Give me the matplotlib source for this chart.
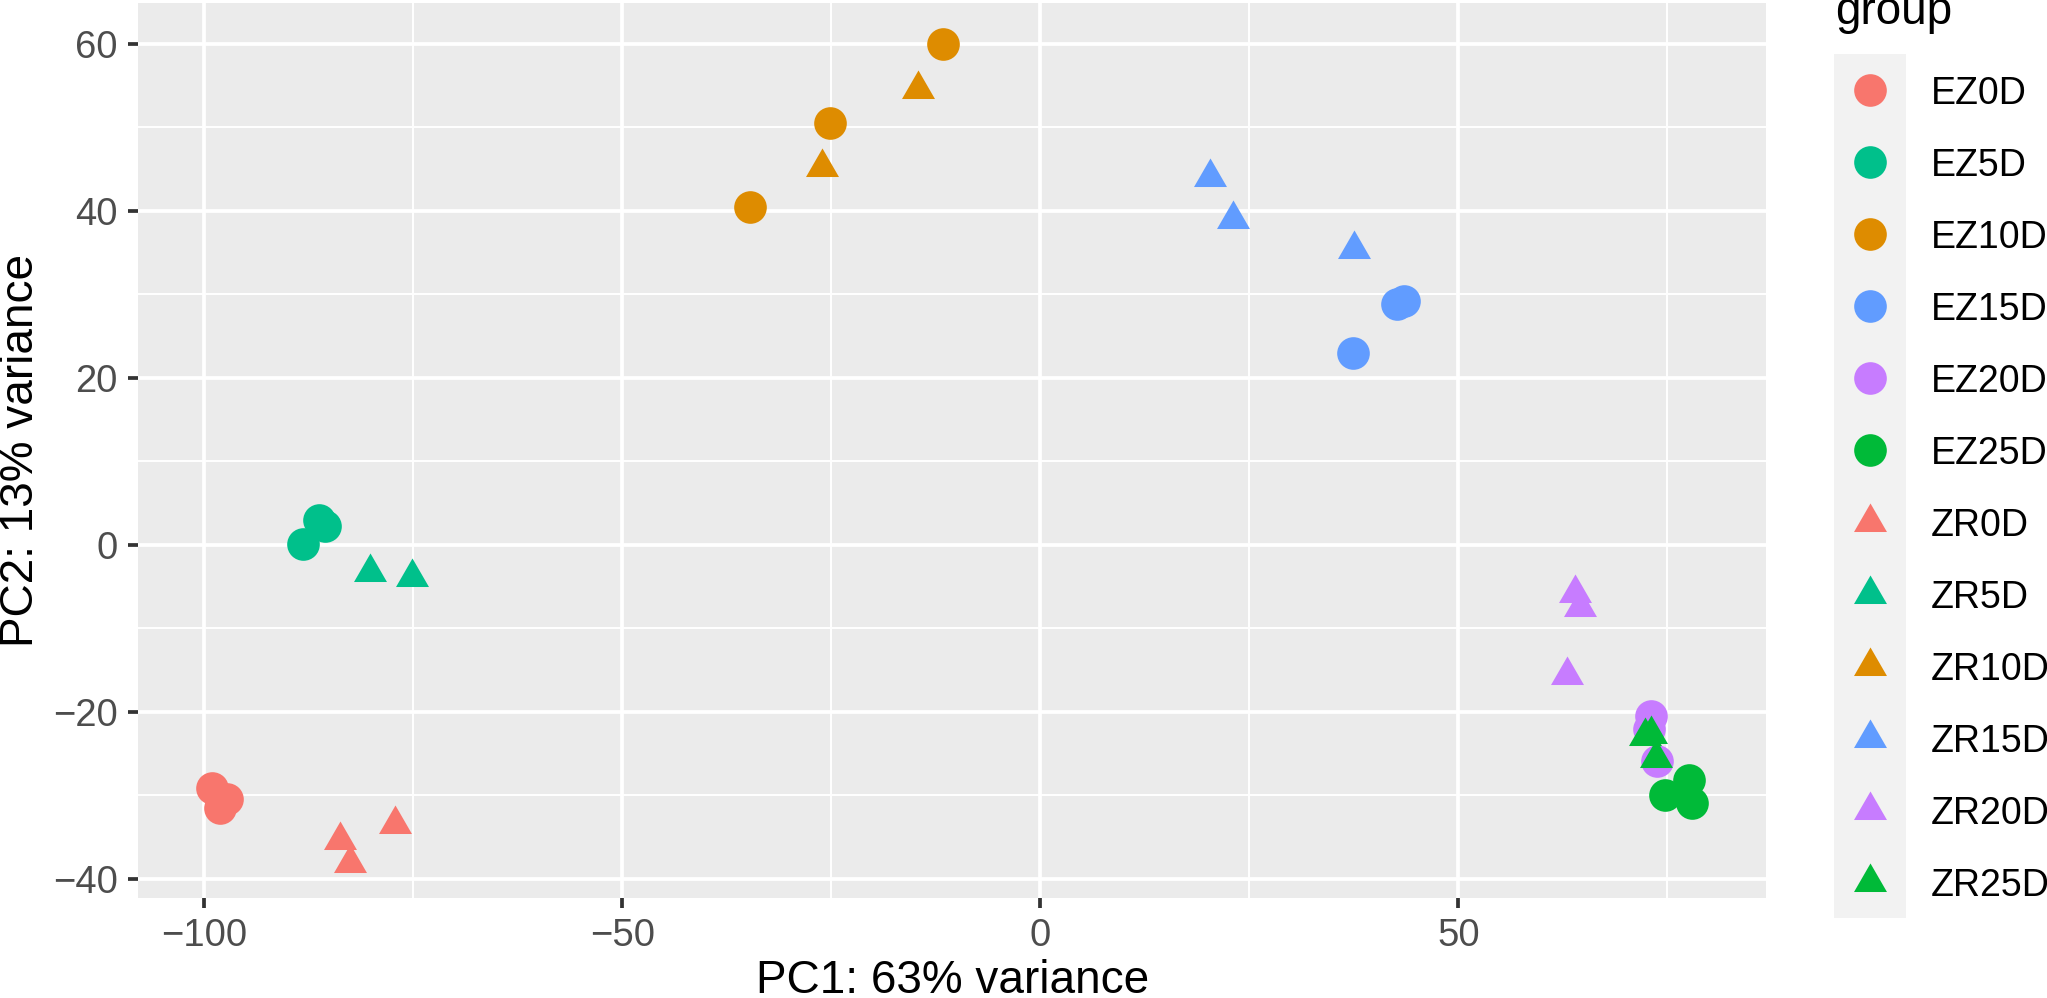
import numpy as np
import matplotlib

matplotlib.use("Agg")
import matplotlib.pyplot as plt
from matplotlib.ticker import MultipleLocator

plt.rcParams["font.family"] = ["Liberation Sans", "DejaVu Sans"]

# groups in legend order
groups = ["EZ0D", "EZ5D", "EZ10D", "EZ15D", "EZ20D", "EZ25D",
          "ZR0D", "ZR5D", "ZR10D", "ZR15D", "ZR20D", "ZR25D"]
colors = ["#F8766D", "#00C08B", "#DE8C00", "#619CFF", "#C77CFF", "#00BA38"] * 2

# PCA coordinates, one list per group
pc1 = {
    "EZ0D": [-99.0, -97.3, -98.1],
    "EZ5D": [-88.2, -86.3, -85.5],
    "EZ10D": [-11.6, -25.2, -34.7],
    "EZ15D": [42.7, 43.5, 37.4],
    "EZ20D": [73.0, 72.8, 73.8],
    "EZ25D": [74.7, 77.6, 78.0],
    "ZR0D": [-83.7, -82.5, -77.2],
    "ZR5D": [-80.1, -75.1],
    "ZR10D": [-14.6, -26.1],
    "ZR15D": [20.3, 23.1, 37.5],
    "ZR20D": [64.0, 64.6, 63.0],
    "ZR25D": [72.3, 73.0, 73.6],
}
pc2 = {
    "EZ0D": [-29.1, -30.5, -31.5],
    "EZ5D": [0.1, 3.0, 2.2],
    "EZ10D": [60.0, 50.5, 40.5],
    "EZ15D": [28.9, 29.2, 23.0],
    "EZ20D": [-20.5, -22.0, -25.9],
    "EZ25D": [-30.0, -28.2, -30.9],
    "ZR0D": [-35.3, -38.1, -33.4],
    "ZR5D": [-3.2, -3.9],
    "ZR10D": [54.6, 45.3],
    "ZR15D": [44.0, 39.0, 35.4],
    "ZR20D": [-5.8, -7.5, -15.6],
    "ZR25D": [-22.9, -22.6, -25.5],
}

W, H = 2047, 998
tri = [(0, 1), (np.sqrt(3) / 2, -0.5), (-np.sqrt(3) / 2, -0.5)]  # centroid-centred like R pch 17
CIRC_S = 23.5 ** 2
TRI_S = 27.4 ** 2


def marker_for(g):
    return ("o", CIRC_S) if g.startswith("EZ") else (tri, TRI_S)


fig = plt.figure(figsize=(W / 100, H / 100), dpi=100)
ax = fig.add_axes([138 / W, (H - 898) / H, (1766 - 138) / W, (898 - 3) / H])
ax.set_facecolor("#EBEBEB")
for s in ax.spines.values():
    s.set_visible(False)

for g, c in zip(groups, colors):
    m, size = marker_for(g)
    ax.scatter(pc1[g], pc2[g], s=size, marker=m, color=c, linewidths=0, zorder=3)

ax.set_xlim(-107.9, 86.8)
ax.set_ylim(-42.3, 64.9)
ax.xaxis.set_major_locator(MultipleLocator(50))
ax.xaxis.set_minor_locator(MultipleLocator(25))
ax.yaxis.set_major_locator(MultipleLocator(20))
ax.yaxis.set_minor_locator(MultipleLocator(10))
ax.grid(which="major", color="white", lw=2.7)
ax.grid(which="minor", color="white", lw=1.4)
ax.set_axisbelow(True)
ax.tick_params(which="major", length=7.5, width=2.7, color="#333333",
               labelsize=27.5, labelcolor="#4D4D4D", pad=7)
ax.tick_params(which="minor", length=0)

fig.text(953 / W, 5 / H, "PC1: 63% variance", fontsize=33,
         ha="center", va="baseline")
fig.text(33 / W, (H - 450.5) / H, "PC2: 13% variance", fontsize=33,
         rotation=90, rotation_mode="anchor", ha="center", va="baseline")

# legend: grey key column with labels to the right
lax = fig.add_axes([1834 / W, (H - 918) / H, 72 / W, 864 / H])
lax.set_facecolor("#F2F2F2")
lax.set_xlim(0, 1)
lax.set_ylim(len(groups), 0)
lax.set_xticks([])
lax.set_yticks([])
for s in lax.spines.values():
    s.set_visible(False)
for i, (g, c) in enumerate(zip(groups, colors)):
    m, size = marker_for(g)
    lax.scatter([0.5], [i + 0.5], s=size, marker=m, color=c, linewidths=0, clip_on=False)
    lax.text(1.347, i + 0.5 + 0.19, g, fontsize=27, va="baseline", ha="left",
             clip_on=False)
fig.text(1835 / W, (H - 23.5) / H, "group", fontsize=33, ha="left", va="baseline")

fig.savefig("out.png", dpi=100, facecolor="white")
